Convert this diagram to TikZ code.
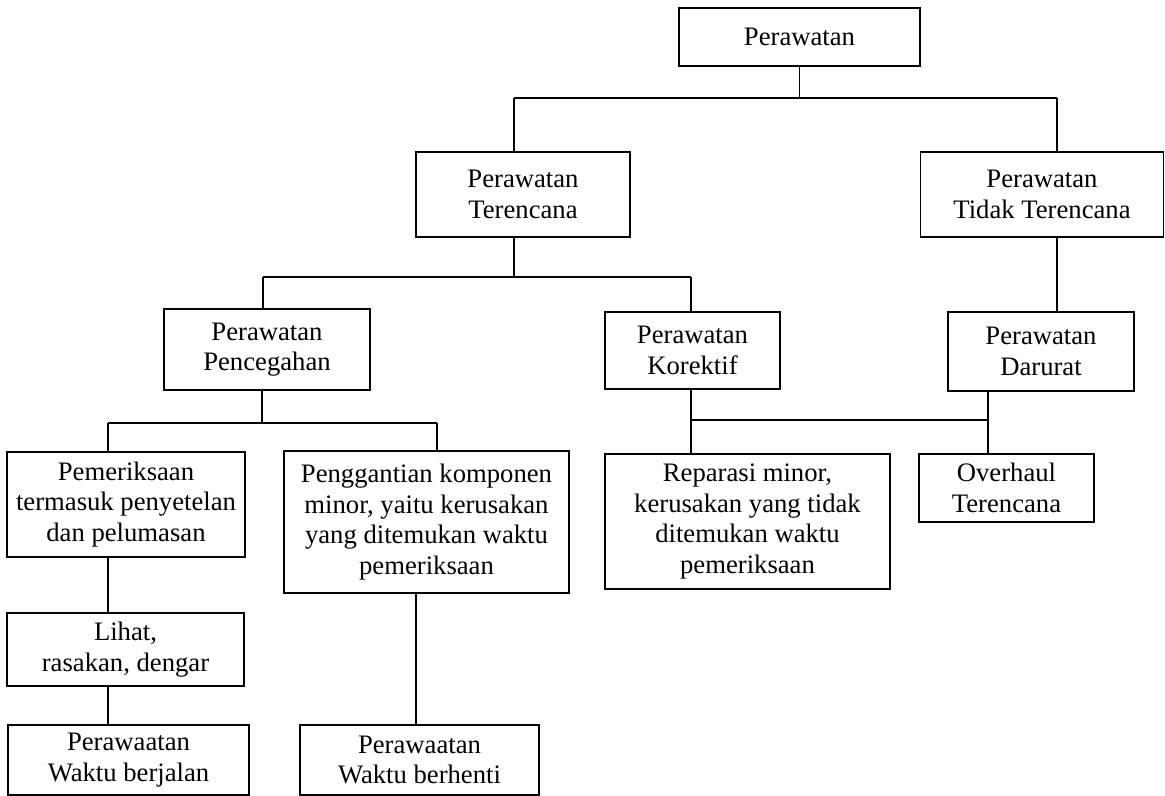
\documentclass[tikz,border=0pt]{standalone}
\usepackage{fontspec}
\setmainfont{Liberation Serif}
\tikzset{
  bx/.style n args={2}{draw, line width=1.2pt, minimum width=#1*0.75pt, minimum height=#2*0.75pt,
    inner sep=0pt, align=center, font=\fontsize{20}{23}\selectfont},
  conn/.style={line width=1.2pt}
}
\begin{document}
\begin{tikzpicture}[x=0.75pt,y=-0.75pt]
\useasboundingbox (0,0) rectangle (1165,796);
% boxes
\node[bx={241}{58}]  (top) at (799.5,37)   {Perawatan};
\node[bx={214}{85}]  (ter) at (523,194.5)  {Perawatan\\Terencana};
\node[bx={243}{85}]  (tid) at (1042,194.5) {Perawatan\\Tidak Terencana};
\node[bx={206}{81}]  (pen) at (267,349.5)  {Perawatan\\Pencegahan};
\node[bx={175}{77}]  (kor) at (692.5,350.5) {Perawatan\\Korektif};
\node[bx={186}{79}]  (dar) at (1041,351.5) {Perawatan\\Darurat};
\node[bx={238}{105}] (pem) at (126,504.5)  {Pemeriksaan\\termasuk penyetelan\\dan pelumasan};
\node[bx={285}{142}] (peng) at (426.5,522) {Penggantian komponen\\minor, yaitu kerusakan\\yang ditemukan waktu\\pemeriksaan};
\node[bx={285}{135}] (rep) at (747.5,521.5) {Reparasi minor,\\kerusakan yang tidak\\ditemukan waktu\\pemeriksaan};
\node[bx={175}{68}]  (ovh) at (1006.5,488) {Overhaul\\Terencana};
\node[bx={237}{73}]  (lih) at (125.5,649.5) {Lihat,\\rasakan, dengar};
\node[bx={241}{70}]  (jal) at (128.5,760)  {Perawaatan\\Waktu berjalan};
\node[bx={239}{70}]  (hen) at (419.5,760)  {Perawaatan\\Waktu berhenti};
% bus coordinates
\coordinate (b1L) at (514,98);
\coordinate (b1R) at (1057,98);
\coordinate (b2L) at (263,277);
\coordinate (b2R) at (691,277);
\coordinate (b3L) at (108,423);
\coordinate (b3M) at (262,423);
\coordinate (b3R) at (437,423);
\coordinate (b4L) at (691,420);
\coordinate (b4R) at (988,420);
\coordinate (c4) at (416,660);
% connectors
\draw[conn] (top.south) -- (top.south |- b1L);
\draw[conn] (b1L) -- (b1R);
\draw[conn] (b1L) -- (b1L |- ter.north);
\draw[conn] (b1R) -- (b1R |- tid.north);
\draw[conn] (b1R |- tid.south) -- (b1R |- dar.north);
\draw[conn] (b1L |- ter.south) -- (b1L |- b2L);
\draw[conn] (b2L) -- (b2R);
\draw[conn] (b2L) -- (b2L |- pen.north);
\draw[conn] (b2R) -- (b2R |- kor.north);
\draw[conn] (b3M |- pen.south) -- (b3M);
\draw[conn] (b3L) -- (b3R);
\draw[conn] (b3L) -- (b3L |- pem.north);
\draw[conn] (b3R) -- (b3R |- peng.north);
\draw[conn] (b3L |- pem.south) -- (b3L |- lih.north);
\draw[conn] (b3L |- lih.south) -- (b3L |- jal.north);
\draw[conn] (c4 |- peng.south) -- (c4 |- hen.north);
\draw[conn] (b4L |- kor.south) -- (b4L |- rep.north);
\draw[conn] (b4L) -- (b4R);
\draw[conn] (b4R |- dar.south) -- (b4R |- ovh.north);
\end{tikzpicture}
\end{document}
